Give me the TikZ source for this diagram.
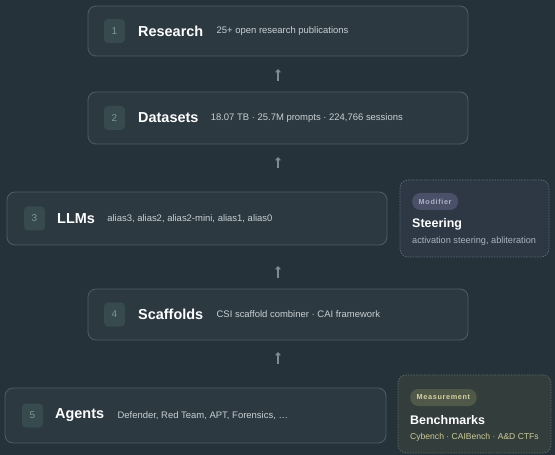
\documentclass[tikz,border=0pt]{standalone}
\usepackage{fontspec}
\setmainfont{Liberation Sans}
\usetikzlibrary{arrows.meta}
\definecolor{bg}{RGB}{37,50,58}
\definecolor{boxfill}{RGB}{44,57,65}
\definecolor{boxline}{RGB}{78,93,99}
\definecolor{numfill}{RGB}{55,74,77}
\definecolor{numtext}{RGB}{125,152,148}
\definecolor{subtext}{RGB}{200,208,210}
\definecolor{arrowc}{RGB}{125,140,146}
\definecolor{modfill}{RGB}{45,56,68}
\definecolor{modline}{RGB}{92,104,118}
\definecolor{modpill}{RGB}{74,80,104}
\definecolor{modpilltext}{RGB}{172,177,198}
\definecolor{modsub}{RGB}{170,180,192}
\definecolor{measfill}{RGB}{51,61,60}
\definecolor{measline}{RGB}{92,104,100}
\definecolor{measpill}{RGB}{80,88,74}
\definecolor{measpilltext}{RGB}{215,210,160}
\definecolor{meassub}{RGB}{205,205,150}
\begin{document}
\begin{tikzpicture}[x=1bp,y=-1bp,
  layerbox/.style={draw=boxline, fill=boxfill, line width=0.8bp, rounded corners=8bp},
  numbox/.style={fill=numfill, rounded corners=4bp, minimum width=21bp, minimum height=24bp, inner sep=0pt,
    text=numtext, font=\fontsize{10}{12}\selectfont},
  titletext/.style={anchor=west, inner sep=0pt, text=white, font=\fontsize{14.5}{17}\selectfont\bfseries},
  subtitletext/.style={anchor=west, inner sep=0pt, text=subtext, font=\fontsize{9.5}{11}\selectfont},
  flowarrow/.style={draw=arrowc, line width=1.1bp, -{Straight Barb[length=2.5bp,width=4.5bp]}},
  modbox/.style={draw=modline, fill=modfill, dashed, dash pattern=on 1.5bp off 1.2bp, line width=0.7bp, rounded corners=8bp},
  measbox/.style={draw=measline, fill=measfill, dashed, dash pattern=on 1.5bp off 1.2bp, line width=0.7bp, rounded corners=8bp},
  pill/.style={anchor=west, rounded corners=8bp, minimum height=17bp, inner xsep=6.5bp, inner ysep=0pt,
    font=\fontsize{7.3}{8}\selectfont\bfseries\addfontfeature{LetterSpace=9}},
  sidetitle/.style={anchor=west, inner sep=0pt, text=white, font=\fontsize{12.5}{15}\selectfont\bfseries},
  sidesub/.style={anchor=west, inner sep=0pt, font=\fontsize{9.2}{11}\selectfont},
]
\useasboundingbox (0,0) rectangle (555,455);
\fill[bg] (0,0) rectangle (555,455);

% Layer 1
\draw[layerbox] (88,6) rectangle (468,56);
\node[numbox] (n1) at (114.5,31) {1};
\node[titletext] (t1) at (138,31) {Research};
\node[subtitletext] (s1) at ([xshift=13bp]t1.east) {25+ open research publications};

% Layer 2
\draw[layerbox] (88,92) rectangle (468,144);
\node[numbox] (n2) at (114.5,118) {2};
\node[titletext] (t2) at (138,118) {Datasets};
\node[subtitletext] (s2) at ([xshift=12bp]t2.east) {18.07 TB · 25.7M prompts · 224,766 sessions};

% Layer 3
\draw[layerbox] (7,192) rectangle (387,245);
\node[numbox] (n3) at (34.5,218.5) {3};
\node[titletext] (t3) at (57,218.5) {LLMs};
\node[subtitletext] (s3) at ([xshift=12bp]t3.east) {alias3, alias2, alias2-mini, alias1, alias0};

% Layer 4
\draw[layerbox] (88,289) rectangle (468,340);
\node[numbox] (n4) at (114.5,314.5) {4};
\node[titletext] (t4) at (138,314.5) {Scaffolds};
\node[subtitletext] (s4) at ([xshift=13bp]t4.east) {CSI scaffold combiner · CAI framework};

% Layer 5
\draw[layerbox] (5,388) rectangle (386,443);
\node[numbox] (n5) at (32.5,415.5) {5};
\node[titletext] (t5) at (55,415.5) {Agents};
\node[subtitletext] (s5) at ([xshift=13bp]t5.east) {Defender, Red Team, APT, Forensics, …};

% Steering (modifier)
\draw[modbox] (400,180) rectangle (549,257);
\node[pill, fill=modpill, text=modpilltext] (p1) at (412,201.5) {Modifier};
\node[sidetitle] (st1) at (412,224) {Steering};
\node[sidesub, text=modsub] (ss1) at (412,241) {activation steering, abliteration};

% Benchmarks (measurement)
\draw[measbox] (398,375) rectangle (551,453);
\node[pill, fill=measpill, text=measpilltext] (p2) at (410,397.5) {Measurement};
\node[sidetitle] (st2) at (410,420) {Benchmarks};
\node[sidesub, text=meassub, font=\fontsize{8.6}{10}\selectfont] (ss2) at (410,437) {Cybench · CAIBench · A\&D CTFs};

% Flow arrows
\coordinate (a1s) at (278,81); \coordinate (a1e) at (278,69);
\coordinate (a2s) at (278,168); \coordinate (a2e) at (278,157);
\coordinate (a3s) at (278,278); \coordinate (a3e) at (278,266);
\coordinate (a4s) at (278,364); \coordinate (a4e) at (278,352);
\draw[flowarrow] (a1s) -- (a1e);
\draw[flowarrow] (a2s) -- (a2e);
\draw[flowarrow] (a3s) -- (a3e);
\draw[flowarrow] (a4s) -- (a4e);
\end{tikzpicture}
\end{document}
